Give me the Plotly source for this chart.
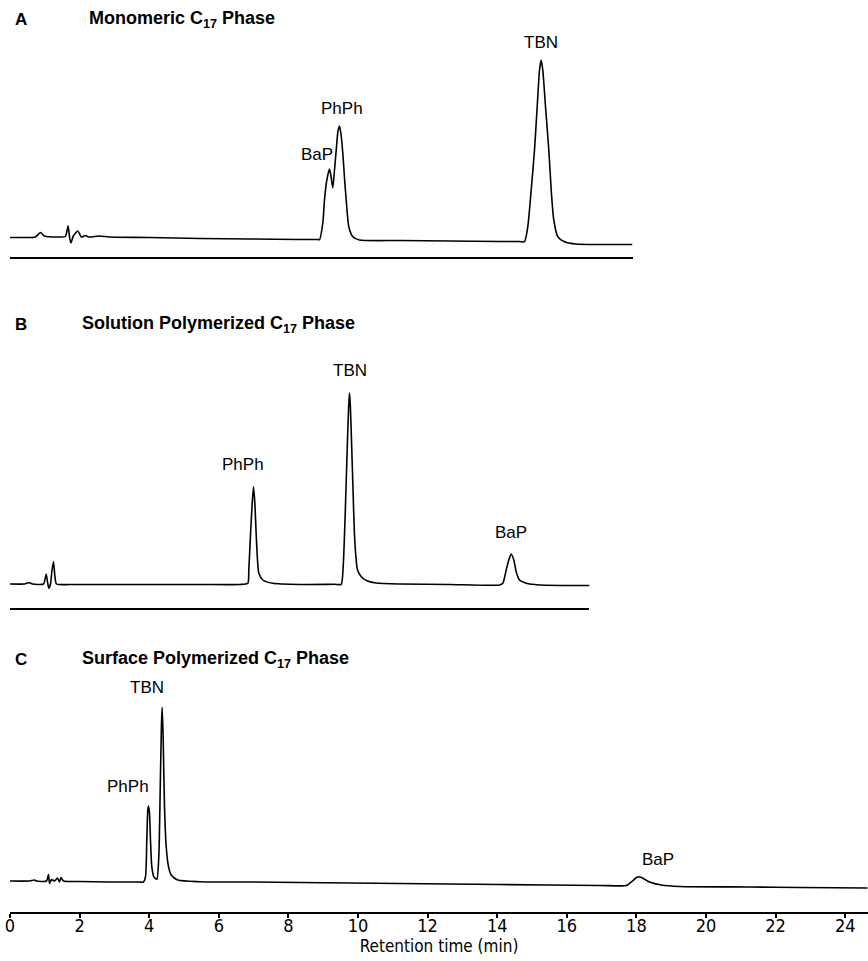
import plotly.graph_objects as go

# ---------------- data (retention time in min, detector response in arbitrary units) -------------
time_a = [0.0, 0.42, 0.73, 0.88, 0.99, 1.42, 1.59, 1.67, 1.71, 1.75, 1.82, 1.95, 2.05, 2.17, 2.26,
          2.57, 2.86, 4.0, 5.45, 6.88, 8.32, 8.84, 8.894, 8.989, 9.037, 9.095, 9.181, 9.224, 9.276,
          9.325, 9.374, 9.425, 9.468, 9.511, 9.563, 9.612, 9.661, 9.736, 9.851, 10.04, 11.19, 12.63,
          14.07, 14.64, 14.784, 14.879, 14.977, 15.072, 15.149, 15.216, 15.264, 15.310, 15.388,
          15.483, 15.552, 15.626, 15.741, 15.934, 16.27, 17.888]
resp_a = [0.0, 0.0, 0.25, 2.5, 0.75, 0.25, 0.5, 5.75, 0.25, -2.75, 0.75, 3.25, 0.25, 1.0, 0.25,
          0.75, 0.25, 0.0, -0.5, -0.75, -1.0, -1.0, -1.1, 7.25, 18.75, 27.75, 34.25, 30.75, 24.75,
          33.75, 43.75, 53.25, 55.75, 51.75, 42.25, 29.75, 18.75, 5.4, 0.4, -1.25, -1.5, -1.75,
          -2.0, -2.0, -2.1, 5.4, 23.75, 43.75, 65.4, 83.75, 88.75, 83.75, 65.4,
          43.75, 23.75, 8.75, 0.4, -2.1, -3.25, -3.5]

time_b = [0.0, 0.417, 0.503, 0.56, 0.647, 0.963, 1.04, 1.078, 1.115, 1.164, 1.207, 1.25, 1.287,
          1.336, 1.71, 2.57, 4.01, 5.45, 6.595, 6.833, 6.862, 6.911, 6.960, 6.997, 7.036, 7.075,
          7.112, 7.149, 7.264, 7.552, 8.319, 9.325, 9.517, 9.569, 9.612, 9.655, 9.698, 9.733,
          9.756, 9.779, 9.813, 9.856, 9.899, 9.943, 9.986, 10.1, 10.273, 10.523, 11.193, 12.63,
          14.066, 14.161, 14.259, 14.333, 14.402, 14.477, 14.546, 14.641, 14.833, 15.216, 16.652]
resp_b = [0.0, 0.0, 0.5, 0.65, 0.0, 0.0, 5.0, 1.0, -2.15, 0.0, 7.0, 11.15, 4.5,
          0.0, -0.25, -0.25, -0.25, -0.25, -0.25, 0.35, 7.0, 24.5, 40.35, 48.65, 40.35, 24.5,
          12.0, 5.5, 2.0, 0.35, -0.25, -0.15, -0.15, 7.0, 24.5, 47.5, 72.0, 89.5,
          95.5, 89.5, 72.0, 47.5, 24.5, 13.0, 7.0, 3.5, 1.5, 0.5, 0.0, -0.25,
          -0.5, 0.35, 7.0, 12.0, 15.0, 12.0, 6.15, 2.0, 0.35, -0.5, -0.75]

time_c = [0.0, 0.56, 0.704, 0.761, 1.049, 1.106, 1.135, 1.193, 1.279, 1.365, 1.422, 1.466, 1.537,
          1.997, 2.859, 3.721, 3.836, 3.894, 3.931, 3.960, 3.980, 4.009, 4.037, 4.075, 4.132,
          4.218, 4.276, 4.316, 4.353, 4.374, 4.402, 4.44, 4.489, 4.555, 4.632, 4.822, 5.445,
          6.882, 8.319, 11.193, 14.066, 16.94, 17.658, 17.744, 17.888, 18.003, 18.069, 18.175,
          18.376, 18.713, 19.239, 21.25, 22.69, 24.64]
resp_c = [0.0, 0.0, 0.5, 0.0, 0.0, 3.25, -1.25, 0.75, 0.0, 1.5, -0.5, 1.75, 0.0,
          -0.25, -0.5, -0.5, -0.5, 2.15, 20.5, 35.5, 37.5, 33.85, 20.5, 7.15, 2.15,
          0.85, 12.15, 45.5, 78.85, 86.85, 70.5, 37.15, 17.15, 7.15, 3.0, 0.5, -0.35,
          -0.5, -0.75, -1.25, -1.75, -2.25, -2.4, -2.0, 0.0, 1.75, 2.15, 1.5,
          -0.5, -2.0, -2.75, -3.0, -3.25, -3.5]

peaks_a = ["BaP", "PhPh", "TBN"]
peak_t_a = [9.181, 9.468, 15.264]
peaks_b = ["PhPh", "TBN", "BaP"]
peak_t_b = [6.997, 9.756, 14.402]
peaks_c = ["PhPh", "TBN", "BaP"]
peak_t_c = [3.980, 4.374, 18.069]

panel_letters = ["A", "B", "C"]
panel_titles = ["Monomeric C<sub>17</sub> Phase",
                "Solution Polymerized C<sub>17</sub> Phase",
                "Surface Polymerized C<sub>17</sub> Phase"]

x_ticks = [0, 2, 4, 6, 8, 10, 12, 14, 16, 18, 20, 22, 24]
x_title = "Retention time (min)"

# ---------------- layout helpers -------------
W, H = 868, 961
ML, MB, MT, MR = 10, 49, 0, 0
PW, PH = W - ML - MR, H - MB - MT
PX_PER_MIN = 34.8
PX_PER_UNIT = 2.0

# (axis line pixel, baseline pixel, top pixel)
panel_px = [(257, 237.5, 30), (608, 584, 360), (912, 881, 680)]

FONT = "Liberation Sans, Arial, Helvetica, sans-serif"
NARROW = ("Liberation Sans Narrow, Arial Narrow, DejaVu Sans Condensed, "
          "Liberation Sans, Arial, sans-serif")

fig = go.Figure()
series = [(time_a, resp_a), (time_b, resp_b), (time_c, resp_c)]
peak_sets = [(peaks_a, peak_t_a), (peaks_b, peak_t_b), (peaks_c, peak_t_c)]
label_shift = {
    (0, "BaP"): (-13, 3), (0, "PhPh"): (3, 6), (0, "TBN"): (0, 6),
    (1, "PhPh"): (-11, 11), (1, "TBN"): (0, 11), (1, "BaP"): (0, 10),
    (2, "PhPh"): (-21, 8), (2, "TBN"): (-15, 8), (2, "BaP"): (19, 6),
}

for i, (t, r) in enumerate(series):
    n = "" if i == 0 else str(i + 1)
    fig.add_trace(go.Scatter(x=t, y=r, mode="lines", xaxis="x" + n, yaxis="y" + n,
                             line=dict(color="black", width=1.6, shape="spline", smoothing=0.6),
                             hoverinfo="skip", showlegend=False))
    py_axis, py_base, py_top = panel_px[i]
    dom = [(MT + PH - py_axis) / PH, (MT + PH - py_top) / PH]
    yr = [(py_base - py_axis) / PX_PER_UNIT, (py_base - py_top) / PX_PER_UNIT]
    xr_end = (PW / PX_PER_MIN) if i == 2 else max(t)
    xdom_end = min(1.0, xr_end * PX_PER_MIN / PW)
    xa = dict(domain=[0, xdom_end], range=[0, xr_end], anchor="y" + n,
              showline=True, linecolor="black", linewidth=2, showgrid=False, zeroline=False,
              fixedrange=True)
    if i == 2:
        xa.update(tickmode="array", tickvals=x_ticks, ticktext=[str(v) for v in x_ticks],
                  ticks="outside", ticklen=4, tickwidth=1.5, tickcolor="black",
                  ticklabelstandoff=-8,
                  tickfont=dict(family=NARROW, size=18, color="black"),
                  title=dict(text=x_title, font=dict(family=NARROW, size=17, color="black"),
                             standoff=2))
    else:
        xa.update(showticklabels=False, ticks="")
    ya = dict(domain=dom, range=yr, visible=False, anchor="x" + n, fixedrange=True)
    fig.layout["xaxis" + n] = xa
    fig.layout["yaxis" + n] = ya

    names, tpk = peak_sets[i]
    for name, tp in zip(names, tpk):
        # peak height read from the series at that retention time
        h = r[t.index(tp)]
        dx, dy = label_shift[(i, name)]
        fig.add_annotation(x=tp, y=h, xref="x" + n, yref="y" + n, text=name, showarrow=False,
                           xanchor="center", yanchor="bottom", xshift=dx, yshift=dy,
                           font=dict(family=FONT, size=17, color="black"))

title_y_px = [19, 324, 659]
title_x_px = [87, 80, 80]
for i in range(3):
    yp = (MT + PH - title_y_px[i]) / PH
    fig.add_annotation(x=(13 - ML) / PW, y=yp, xref="paper", yref="paper",
                       text="<b>" + panel_letters[i] + "</b>", showarrow=False,
                       xanchor="left", yanchor="middle",
                       font=dict(family=FONT, size=17, color="black"))
    fig.add_annotation(x=(title_x_px[i] - ML) / PW, y=yp, xref="paper", yref="paper",
                       text="<b>" + panel_titles[i] + "</b>", showarrow=False,
                       xanchor="left", yanchor="middle",
                       font=dict(family=FONT, size=18, color="black"))

fig.update_layout(width=W, height=H, margin=dict(l=ML, r=MR, t=MT, b=MB),
                  paper_bgcolor="white", plot_bgcolor="white", showlegend=False)

fig.write_html("out.html", config={"displayModeBar": False})
